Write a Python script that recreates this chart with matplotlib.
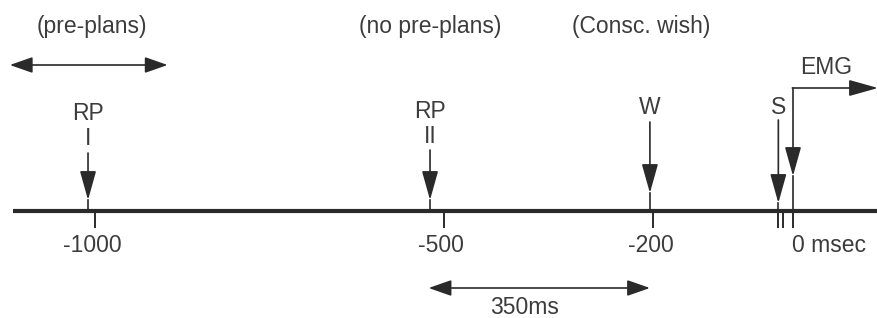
import matplotlib.pyplot as plt

# timeline values (ms relative to movement)
tick_values = [-1000, -500, -200, 0]
tick_labels = ["-1000", "-500", "-200", "0 msec"]
extra_ticks = [-21, -14]

event_names = ["RP\nI", "RP\nII", "W", "S"]
event_times = [-1010, -520, -205, -21]

phase_labels = ["(pre-plans)", "(no pre-plans)", "(Consc. wish)"]
phase_centers = [-1005, -520, -217]

preplan_span = [-1122, -896]
interval_span = [-522, -205]
interval_label = "350ms"
emg_time = 0

ink = "#2a2a2a"
txt = "#3c3c3c"
fs = 16.5
plt.rcParams["font.family"] = ["Liberation Sans", "DejaVu Sans"]

fig = plt.figure(figsize=(8.78, 3.18), dpi=100)
ax = fig.add_axes([0, 0, 1, 1])
# x in ms, y in pixels from top
ax.set_xlim(-793 / 0.698, (878 - 793) / 0.698)
ax.set_ylim(318, 0)
ax.axis("off")

line_y = 211
ax.plot([(13 - 793) / 0.698, ax.get_xlim()[1]], [line_y, line_y], color=ink, lw=3.0,
        solid_capstyle="butt")

# ticks below the line
for t in tick_values + extra_ticks:
    ax.plot([t, t], [line_y, 227], color=ink, lw=1.4)
for t, lab in zip(tick_values, tick_labels):
    if lab.endswith("msec"):
        ax.text(t - 2, 246, lab, ha="left", va="center", fontsize=fs, color=txt)
    else:
        ax.text(t - 4, 246, lab, ha="center", va="center", fontsize=fs, color=txt)

head = "-|>,head_length=1.0,head_width=0.28"
arrow_top = [153, 150, 122, 120]
arrow_tip = [200, 200, 193, 203]
label_y = [126, 124, 108, 108]
for name, t, top, tip, ly in zip(event_names, event_times, arrow_top, arrow_tip, label_y):
    ax.annotate("", xy=(t, tip), xytext=(t, top),
                arrowprops=dict(arrowstyle=head, mutation_scale=18, lw=1.2, color=ink,
                                shrinkA=0, shrinkB=0))
    ax.plot([t, t], [tip, line_y], color=ink, lw=1.2)
    ax.text(t, ly, name, ha="center", va="center", fontsize=fs, color=txt,
            linespacing=1.1)

# EMG bent arrow
ax.annotate("", xy=(emg_time, 176), xytext=(emg_time, 88),
            arrowprops=dict(arrowstyle=head, mutation_scale=18, lw=1.2, color=ink,
                            shrinkA=0, shrinkB=0))
ax.plot([emg_time, emg_time], [176, line_y], color=ink, lw=1.2)
ax.annotate("", xy=(ax.get_xlim()[1], 88), xytext=(emg_time - 1, 88),
            arrowprops=dict(arrowstyle=head, mutation_scale=18, lw=1.2, color=ink,
                            shrinkA=0, shrinkB=0))
ax.text(47, 67, "EMG", ha="center", va="center", fontsize=fs, color=txt)

# phase labels
for lab, c in zip(phase_labels, phase_centers):
    ax.text(c, 27, lab, ha="center", va="center", fontsize=fs, color=txt)

# double arrows
dbl = "<|-|>,head_length=1.0,head_width=0.35"
ax.annotate("", xy=(preplan_span[1], 65), xytext=(preplan_span[0], 65),
            arrowprops=dict(arrowstyle=dbl, mutation_scale=14, lw=1.2, color=ink,
                            shrinkA=0, shrinkB=0))
ax.annotate("", xy=(interval_span[1], 288), xytext=(interval_span[0], 288),
            arrowprops=dict(arrowstyle=dbl, mutation_scale=14, lw=1.2, color=ink,
                            shrinkA=0, shrinkB=0))
ax.text(-385, 307, interval_label, ha="center", va="center", fontsize=fs, color=txt)

fig.savefig("out.png", dpi=100)
